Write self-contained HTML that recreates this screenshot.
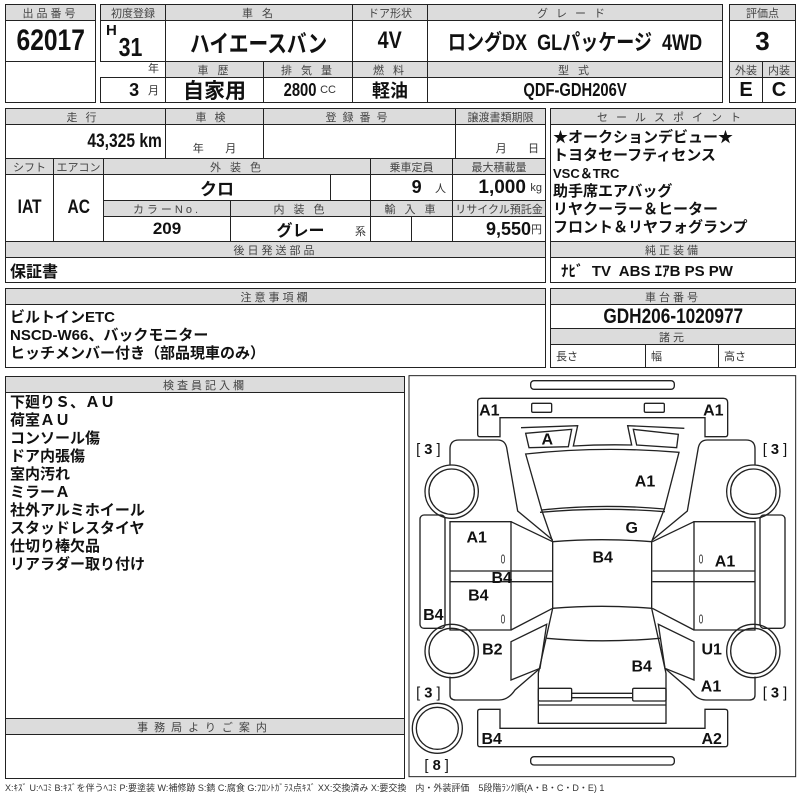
<!DOCTYPE html>
<html><head><meta charset="utf-8"><style>
body{margin:0;width:800px;height:800px;background:#fff;position:relative;overflow:hidden;font-family:"Liberation Sans","Noto Sans CJK JP",sans-serif;color:#111}
.c,.h{position:absolute;box-sizing:border-box;border:1px solid #222;display:flex;align-items:center;justify-content:center;white-space:nowrap}
.h{background:#dcdcdc;color:#444;font-size:11px;letter-spacing:3px}
.b{font-weight:bold}
.s{font-size:11px;font-weight:normal;color:#333}
.t{position:absolute;white-space:nowrap}
.n{display:inline-block;transform:scaleX(0.82)}
</style></head><body>
<!-- top block -->
<div class="h" style="left:5px;top:4px;width:91px;height:17px">出品番号</div>
<div class="c b" style="left:5px;top:20px;width:91px;height:42px;font-size:30px"><span class="n">62017</span></div>
<div class="c" style="left:5px;top:61px;width:91px;height:42px"></div>
<div class="h" style="left:100px;top:4px;width:66px;height:17px;letter-spacing:0">初度登録</div>
<div class="h" style="left:165px;top:4px;width:188px;height:17px">車 名</div>
<div class="h" style="left:352px;top:4px;width:76px;height:17px;letter-spacing:0">ドア形状</div>
<div class="h" style="left:427px;top:4px;width:296px;height:17px;letter-spacing:8px">グレード</div>
<div class="c" style="left:100px;top:20px;width:66px;height:42px"></div>
<div class="t b" style="left:106px;top:22px;font-size:15px">H</div>
<div class="t b" style="left:116px;top:32px;font-size:26px"><span class="n">31</span></div>
<div class="t s" style="left:148px;top:60px">年</div>
<div class="c b" style="left:165px;top:20px;width:188px;height:42px;font-size:24px"><span class="n">ハイエースバン</span></div>
<div class="c b" style="left:352px;top:20px;width:76px;height:42px;font-size:24px"><span class="n">4V</span></div>
<div class="c b" style="left:427px;top:20px;width:296px;height:42px;font-size:22px"><span class="n">ロングDX&nbsp; GLパッケージ&nbsp; 4WD</span></div>
<div class="h" style="left:165px;top:61px;width:99px;height:17px">車 歴</div>
<div class="h" style="left:263px;top:61px;width:90px;height:17px">排 気 量</div>
<div class="h" style="left:352px;top:61px;width:76px;height:17px">燃 料</div>
<div class="h" style="left:427px;top:61px;width:296px;height:17px">型 式</div>
<div class="c" style="left:100px;top:77px;width:66px;height:26px;justify-content:flex-end;padding-right:6px"><span class="b" style="font-size:18px">3</span>&nbsp;&nbsp;<span class="s">月</span></div>
<div class="c b" style="left:165px;top:77px;width:99px;height:26px;font-size:21px">自家用</div>
<div class="c" style="left:263px;top:77px;width:90px;height:26px"><span class="b n" style="font-size:18px">2800</span><span class="s">CC</span></div>
<div class="c b" style="left:352px;top:77px;width:76px;height:26px;font-size:18px">軽油</div>
<div class="c b" style="left:427px;top:77px;width:296px;height:26px;font-size:18px"><span class="n">QDF-GDH206V</span></div>
<div class="h" style="left:729px;top:4px;width:67px;height:17px;letter-spacing:0">評価点</div>
<div class="c b" style="left:729px;top:20px;width:67px;height:42px;font-size:26px">3</div>
<div class="h" style="left:729px;top:61px;width:34px;height:17px;letter-spacing:0">外装</div>
<div class="h" style="left:762px;top:61px;width:34px;height:17px;letter-spacing:0">内装</div>
<div class="c b" style="left:729px;top:77px;width:34px;height:26px;font-size:20px">E</div>
<div class="c b" style="left:762px;top:77px;width:34px;height:26px;font-size:20px">C</div>
<!-- block 2 -->
<div class="h" style="left:5px;top:108px;width:161px;height:17px;letter-spacing:8px">走行</div>
<div class="h" style="left:165px;top:108px;width:99px;height:17px;letter-spacing:8px">車検</div>
<div class="h" style="left:263px;top:108px;width:193px;height:17px;letter-spacing:6px">登録番号</div>
<div class="h" style="left:455px;top:108px;width:91px;height:17px;letter-spacing:0">譲渡書類期限</div>
<div class="c b" style="left:5px;top:124px;width:161px;height:35px;font-size:19px;justify-content:flex-end;padding-right:3px"><span class="n" style="transform-origin:right">43,325 km</span></div>
<div class="c s" style="left:165px;top:124px;width:99px;height:35px;align-items:flex-end;padding-bottom:2px">年&nbsp;&nbsp;&nbsp;&nbsp;&nbsp;&nbsp;&nbsp;月</div>
<div class="c" style="left:263px;top:124px;width:193px;height:35px"></div>
<div class="c s" style="left:455px;top:124px;width:91px;height:35px;align-items:flex-end;padding-bottom:2px;justify-content:flex-end;padding-right:6px">月&nbsp;&nbsp;&nbsp;&nbsp;&nbsp;&nbsp;&nbsp;日</div>
<div class="h" style="left:5px;top:158px;width:49px;height:17px;letter-spacing:0">シフト</div>
<div class="h" style="left:53px;top:158px;width:51px;height:17px;letter-spacing:0">エアコン</div>
<div class="h" style="left:103px;top:158px;width:268px;height:17px">外 装 色</div>
<div class="h" style="left:370px;top:158px;width:83px;height:17px;letter-spacing:0">乗車定員</div>
<div class="h" style="left:452px;top:158px;width:94px;height:17px;letter-spacing:0">最大積載量</div>
<div class="c b" style="left:5px;top:174px;width:49px;height:68px;font-size:19px"><span class="n">IAT</span></div>
<div class="c b" style="left:53px;top:174px;width:51px;height:68px;font-size:19px"><span class="n">AC</span></div>
<div class="c b" style="left:103px;top:174px;width:228px;height:27px;font-size:17px">クロ</div>
<div class="c" style="left:330px;top:174px;width:41px;height:27px"></div>
<div class="c" style="left:370px;top:174px;width:83px;height:27px;justify-content:flex-end;padding-right:6px"><span class="b" style="font-size:18px">9</span>&nbsp;&nbsp;&nbsp;<span class="s">人</span></div>
<div class="c" style="left:452px;top:174px;width:94px;height:27px;justify-content:flex-end;padding-right:3px"><span class="b" style="font-size:19px">1,000</span>&nbsp;<span class="s">kg</span></div>
<div class="h" style="left:103px;top:200px;width:128px;height:17px">カラーNo.</div>
<div class="h" style="left:230px;top:200px;width:141px;height:17px">内 装 色</div>
<div class="h" style="left:370px;top:200px;width:83px;height:17px">輸 入 車</div>
<div class="h" style="left:452px;top:200px;width:94px;height:17px;letter-spacing:0">リサイクル預託金</div>
<div class="c b" style="left:103px;top:216px;width:128px;height:26px;font-size:17px">209</div>
<div class="c" style="left:230px;top:216px;width:141px;height:26px"><span class="b" style="font-size:16px">グレー</span><span class="s" style="position:absolute;right:4px;bottom:2px">系</span></div>
<div class="c" style="left:370px;top:216px;width:42px;height:26px"></div>
<div class="c" style="left:411px;top:216px;width:42px;height:26px"></div>
<div class="c" style="left:452px;top:216px;width:94px;height:26px;justify-content:flex-end;padding-right:3px"><span class="b" style="font-size:18px">9,550</span><span class="s">円</span></div>
<div class="h" style="left:5px;top:241px;width:541px;height:17px">後日発送部品</div>
<div class="c b" style="left:5px;top:257px;width:541px;height:26px;font-size:16px;justify-content:flex-start;padding-left:4px">保証書</div>
<div class="h" style="left:550px;top:108px;width:246px;height:17px;letter-spacing:8px">セールスポイント</div>
<div class="c b" style="left:550px;top:124px;width:246px;height:118px;font-size:15px;line-height:18px;display:block;padding:4px 0 0 2px">★オークションデビュー★<br>トヨタセーフティセンス<br><span style="font-size:13px">VSC＆TRC</span><br>助手席エアバッグ<br>リヤクーラー＆ヒーター<br>フロント＆リヤフォグランプ</div>
<div class="h" style="left:550px;top:241px;width:246px;height:17px">純正装備</div>
<div class="c b" style="left:550px;top:257px;width:246px;height:26px;font-size:15px;justify-content:flex-start;padding-left:10px">ﾅﾋﾞ&nbsp; TV&nbsp; ABS ｴｱB PS PW</div>
<!-- block 3 -->
<div class="h" style="left:5px;top:288px;width:541px;height:17px">注意事項欄</div>
<div class="c b" style="left:5px;top:304px;width:541px;height:64px;font-size:15px;line-height:18px;display:block;padding:4px 0 0 4px">ビルトインETC<br>NSCD-W66、バックモニター<br>ヒッチメンバー付き（部品現車のみ）</div>
<div class="h" style="left:550px;top:288px;width:246px;height:17px">車台番号</div>
<div class="c b" style="left:550px;top:304px;width:246px;height:25px;font-size:21px"><span class="n">GDH206-1020977</span></div>
<div class="h" style="left:550px;top:328px;width:246px;height:17px">諸元</div>
<div class="c s" style="left:550px;top:344px;width:96px;height:24px;justify-content:flex-start;padding-left:5px">長さ</div>
<div class="c s" style="left:645px;top:344px;width:74px;height:24px;justify-content:flex-start;padding-left:5px">幅</div>
<div class="c s" style="left:718px;top:344px;width:78px;height:24px;justify-content:flex-start;padding-left:5px">高さ</div>
<!-- block 4 -->
<div class="h" style="left:5px;top:376px;width:400px;height:17px">検査員記入欄</div>
<div class="c b" style="left:5px;top:392px;width:400px;height:327px;font-size:15px;line-height:18px;display:block;padding:1px 0 0 4px">下廻りＳ、ＡＵ<br>荷室ＡＵ<br>コンソール傷<br>ドア内張傷<br>室内汚れ<br>ミラーＡ<br>社外アルミホイール<br>スタッドレスタイヤ<br>仕切り棒欠品<br>リアラダー取り付け</div>
<div class="h" style="left:5px;top:718px;width:400px;height:17px;letter-spacing:6px">事務局よりご案内</div>
<div class="c" style="left:5px;top:734px;width:400px;height:45px"></div>
<div class="t" style="left:5px;top:781px;font-size:9px;color:#333">X:ｷｽﾞ U:ﾍｺﾐ B:ｷｽﾞを伴うﾍｺﾐ P:要塗装 W:補修跡 S:錆 C:腐食 G:ﾌﾛﾝﾄｶﾞﾗｽ点ｷｽﾞ XX:交換済み X:要交換　内・外装評価　5段階ﾗﾝｸ順(A・B・C・D・E) 1</div>
<!-- diagram -->
<svg style="position:absolute;left:405px;top:375px" width="395" height="425" viewBox="0 0 1185 1275">
<g fill="none" stroke="#222" stroke-width="4">
<rect x="12" y="2" width="1160" height="1203" stroke-width="3"/>
<rect x="377" y="17" width="431" height="26" rx="10"/>
<rect x="377" y="1145" width="431" height="25" rx="10"/>
<path d="M230,70 H955 Q968,70 968,83 V178 Q968,185 960,185 H900 V128 H285 V185 H225 Q218,185 218,178 V80 Q218,70 230,70 Z"/>
<rect x="380" y="85" width="60" height="27" rx="4"/>
<rect x="718" y="85" width="60" height="27" rx="4"/>
<path d="M218,1010 Q218,1003 225,1003 H285 V1060 H900 V1003 H960 Q968,1003 968,1010 V1108 Q968,1115 960,1115 H225 Q218,1115 218,1108 Z"/>
<path d="M348,158 L518,152 L505,213 Q590,208 680,210 L668,152 L838,160"/>
<path d="M362,175 L500,163 L490,215 L372,218 Z"/>
<path d="M685,163 L820,178 L815,218 L695,210 Z"/>
<path d="M362,237 Q590,212 822,232 L778,402 Q590,385 410,405 Z"/>
<path d="M405,412 Q590,395 780,410"/>
<path d="M410,405 L443,500 Q590,488 740,500 L778,402"/>
<path d="M443,500 V700 Q590,688 740,700 V500"/>
<path d="M443,700 L400,895 V1045 H783 V895 L740,700"/>
<path d="M425,790 Q590,805 765,790"/>
<rect x="400" y="940" width="100" height="38" rx="4"/>
<rect x="683" y="940" width="100" height="38" rx="4"/>
<path d="M500,955 H683 M500,968 H683 M400,990 H783"/>
<g id="side">
<path d="M135,270 V222 Q135,195 162,195 H278 Q300,195 305,218 L338,408 L443,495"/>
<circle cx="140" cy="350" r="80"/><circle cx="140" cy="350" r="68"/>
<circle cx="140" cy="828" r="80"/><circle cx="140" cy="828" r="68"/>
<path d="M135,440 H318 V765 H135 Z M318,440 L443,500 M318,765 L443,700 M135,588 H443 M135,620 H443"/>
<path d="M318,800 L425,748 L405,880 L318,915 Z"/>
<path d="M135,905 V960 Q135,975 152,975 H282 Q310,975 330,945 L405,880"/>
<rect x="45" y="420" width="75" height="340" rx="12"/>
</g>
<use href="#side" transform="translate(1185,0) scale(-1,1)"/>
<circle cx="97" cy="1060" r="75"/><circle cx="97" cy="1060" r="63"/>
</g>
<g font-family="Liberation Sans, sans-serif" font-weight="bold" font-size="48" fill="#111" text-anchor="middle">
<text x="253" y="122">A1</text><text x="925" y="122">A1</text>
<text x="427" y="209">A</text><text x="720" y="335">A1</text>
<text x="680" y="474">G</text><text x="593" y="562">B4</text>
<text x="215" y="502">A1</text><text x="960" y="574">A1</text>
<text x="290" y="624">B4</text><text x="220" y="677">B4</text>
<text x="85" y="735">B4</text><text x="262" y="839">B2</text>
<text x="920" y="839">U1</text><text x="710" y="890">B4</text>
<text x="918" y="949">A1</text><text x="260" y="1107">B4</text>
<text x="920" y="1107">A2</text>
</g>
<g font-family="Liberation Sans, sans-serif" font-size="40" fill="#222" text-anchor="middle">
<text x="294" y="565" transform="translate(294,0) scale(0.6,1) translate(-294,0)">0</text>
<text x="294" y="745" transform="translate(294,0) scale(0.6,1) translate(-294,0)">0</text>
<text x="888" y="565" transform="translate(888,0) scale(0.6,1) translate(-888,0)">0</text>
<text x="888" y="745" transform="translate(888,0) scale(0.6,1) translate(-888,0)">0</text>
</g>
<g font-family="Liberation Sans, sans-serif" font-size="44" fill="#111" text-anchor="middle" xml:space="preserve">
<text x="70" y="237">[ <tspan font-weight="bold">3</tspan> ]</text>
<text x="1110" y="237">[ <tspan font-weight="bold">3</tspan> ]</text>
<text x="70" y="967">[ <tspan font-weight="bold">3</tspan> ]</text>
<text x="1110" y="967">[ <tspan font-weight="bold">3</tspan> ]</text>
<text x="95" y="1185">[ <tspan font-weight="bold">8</tspan> ]</text>
</g>
</svg>
</body></html>
